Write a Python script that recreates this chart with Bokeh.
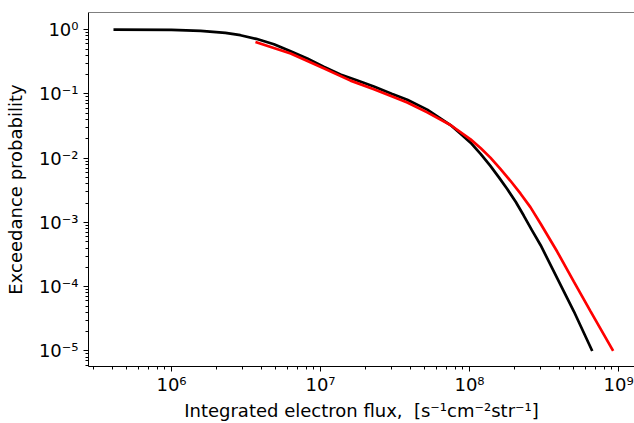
from bokeh.plotting import figure
from bokeh.models import FixedTicker, Span
from bokeh.embed import file_html
from bokeh.resources import INLINE

# Black curve (exceedance probability vs integrated flux)
black_flux = [4.08e5, 1.0e6, 1.57e6, 2.3e6, 2.9e6, 3.7e6, 4.87e6, 6.3e6, 8.15e6,
              1.05e7, 1.36e7, 1.75e7, 2.28e7, 3.0e7, 3.82e7, 5.2e7, 7.45e7, 8.7e7,
              1.016e8, 1.19e8, 1.38e8, 1.57e8, 1.79e8, 2.04e8, 2.31e8, 2.62e8,
              3.0e8, 3.88e8, 5.01e8, 6.66e8]
black_prob = [1.0, 0.99, 0.96, 0.89, 0.82, 0.72, 0.593, 0.46, 0.357,
              0.266, 0.20, 0.163, 0.130, 0.101, 0.081, 0.0569, 0.0328, 0.0241,
              0.0174, 0.0116, 0.00759, 0.00507, 0.00331, 0.0021, 0.00128, 7.6e-4,
              4.42e-4, 1.35e-4, 4.14e-5, 1.0e-5]

# Red curve
red_flux = [3.66e6, 6.3e6, 1.05e7, 1.59e7, 2.28e7, 3.0e7, 3.82e7, 5.2e7, 7.45e7,
            1.016e8, 1.19e8, 1.38e8, 1.61e8, 1.88e8, 2.2e8, 2.56e8, 3.0e8, 3.88e8,
            5.01e8, 6.49e8, 9.2e8]
red_prob = [0.644, 0.426, 0.250, 0.161, 0.1186, 0.092, 0.0737, 0.0516, 0.0328,
            0.0196, 0.01426, 0.0102, 0.00681, 0.00445, 0.0028, 0.00173, 9.55e-4,
            3.49e-4, 1.2e-4, 4.14e-5, 1.0e-5]

x_major = [1e6, 1e7, 1e8, 1e9]
x_labels = ["10⁶", "10⁷", "10⁸", "10⁹"]
y_major = [1e-5, 1e-4, 1e-3, 1e-2, 1e-1, 1.0]
y_labels = ["10⁻⁵", "10⁻⁴", "10⁻³", "10⁻²", "10⁻¹", "10⁰"]

x_label = "Integrated electron flux,\u00a0 [s⁻¹cm⁻²str⁻¹]"
y_label = "Exceedance probability"

x_lo, x_hi = 10 ** 5.443, 10 ** 9.107
y_lo, y_hi = 10 ** -5.242, 10 ** 0.267

x_minor = [m * 10.0 ** k for k in range(5, 10) for m in range(2, 10)]
y_minor = [m * 10.0 ** k for k in range(-6, 1) for m in range(2, 10)]

p = figure(width=634, height=423, x_axis_type="log", y_axis_type="log",
           x_range=(x_lo, x_hi), y_range=(y_lo, y_hi),
           output_backend="svg", toolbar_location=None,
           min_border_left=88, min_border_right=0, min_border_top=12,
           min_border_bottom=54)

p.background_fill_color = "white"
p.border_fill_color = "white"
p.outline_line_color = None
p.xgrid.visible = False
p.ygrid.visible = False

p.xaxis.ticker = FixedTicker(ticks=x_major, minor_ticks=x_minor)
p.yaxis.ticker = FixedTicker(ticks=y_major, minor_ticks=y_minor)
p.xaxis.major_label_overrides = {v: s for v, s in zip(x_major, x_labels)}
p.yaxis.major_label_overrides = {v: s for v, s in zip(y_major, y_labels)}
p.xaxis.axis_label = x_label
p.yaxis.axis_label = y_label

for ax in (p.xaxis, p.yaxis):
    ax.axis_line_color = "black"
    ax.axis_line_width = 1
    ax.major_tick_line_color = "black"
    ax.minor_tick_line_color = "black"
    ax.major_tick_in = 0
    ax.major_tick_out = 5
    ax.minor_tick_in = 0
    ax.minor_tick_out = 3
    ax.major_label_text_font = "DejaVu Sans"
    ax.major_label_text_font_size = "18px"
    ax.major_label_text_color = "black"
    ax.axis_label_text_font = "DejaVu Sans"
    ax.axis_label_text_font_size = "18px"
    ax.axis_label_text_font_style = "normal"
    ax.axis_label_text_color = "black"

p.xaxis.major_label_standoff = 2
p.xaxis.axis_label_standoff = 2
p.yaxis.major_label_standoff = 5
p.yaxis.axis_label_standoff = 10

p.add_layout(Span(location=y_hi, dimension="width", line_color="black", line_width=1))

p.line(black_flux, black_prob, line_color="black", line_width=2.7)
p.line(red_flux, red_prob, line_color="#ff0000", line_width=2.7)

open("out.html", "w").write(file_html(p, INLINE))
